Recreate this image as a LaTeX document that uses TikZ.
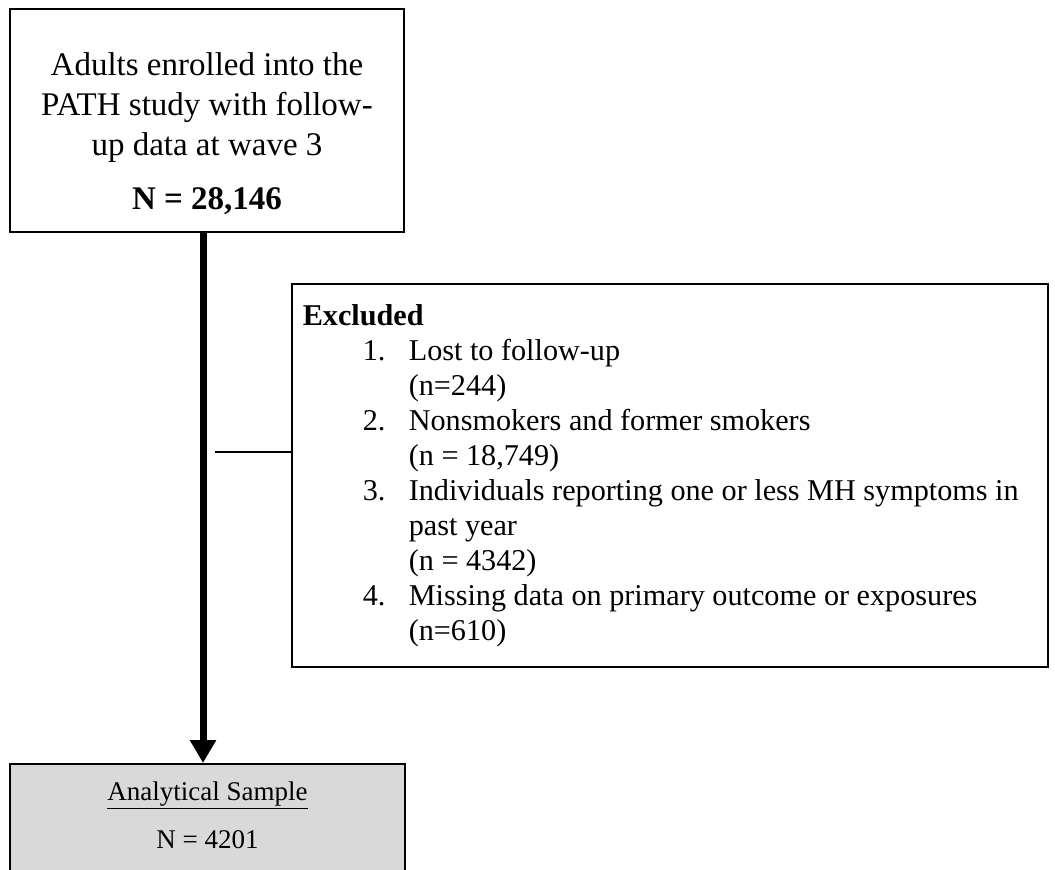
\documentclass[tikz,border=0pt]{standalone}
\usepackage{fontspec}
\setmainfont{Liberation Serif}
\usetikzlibrary{arrows.meta,positioning}

\newcommand{\exitem}[2]{\hspace*{60pt}\makebox[46pt][l]{#1}#2}
\newcommand{\excont}[1]{\hspace*{106pt}#1}

\begin{document}
\begin{tikzpicture}[
  x=1pt, y=-1pt,
  box/.style={draw, line width=1.6pt, inner sep=0pt},
  mainedge/.style={-{Triangle[length=23pt,width=25pt]}, line width=7pt},
  sideedge/.style={line width=1.6pt}
]
\useasboundingbox (0,0) rectangle (1055,870);
\clip (0,0) rectangle (1055,870);

% --- Boxes
\node[box, minimum width=394pt, minimum height=223pt, text width=380pt,
      align=flush center, font=\fontsize{33}{40}\selectfont] (enrolled) at (207,120.5)
  {\rule{0pt}{50pt}Adults enrolled into the\\PATH study with follow-\\up data at wave 3\\[14pt]\textbf{N = 28,146}};

\node[box, anchor=north west, minimum width=756pt, minimum height=383pt,
      text width=734pt, inner xsep=11pt, align=flush left,
      font=\fontsize{30.2}{35}\selectfont] (excluded) at (291,283)
  {\textbf{Excluded}\\
   \exitem{1.}{Lost to follow-up}\\
   \excont{(n=244)}\\
   \exitem{2.}{Nonsmokers and former smokers}\\
   \excont{(n = 18,749)}\\
   \exitem{3.}{Individuals reporting one or less MH symptoms in}\\
   \excont{past year}\\
   \excont{(n = 4342)}\\
   \exitem{4.}{Missing data on primary outcome or exposures}\\
   \excont{(n=610)}};

\node[box, fill=black!15, anchor=north, minimum width=395pt, inner ysep=18pt,
      align=flush center, text depth=80pt, font=\fontsize{27}{48}\selectfont] (sample) at (207.5,763)
  {\underline{Analytical Sample}\\N = 4201};

% --- Connectors
\coordinate (branch) at (215,452);
\draw[mainedge] ([xshift=-4pt]enrolled.south) -- ([xshift=-4.5pt]sample.north);
\draw[sideedge] (branch) -- (branch -| excluded.west);

\end{tikzpicture}
\end{document}
